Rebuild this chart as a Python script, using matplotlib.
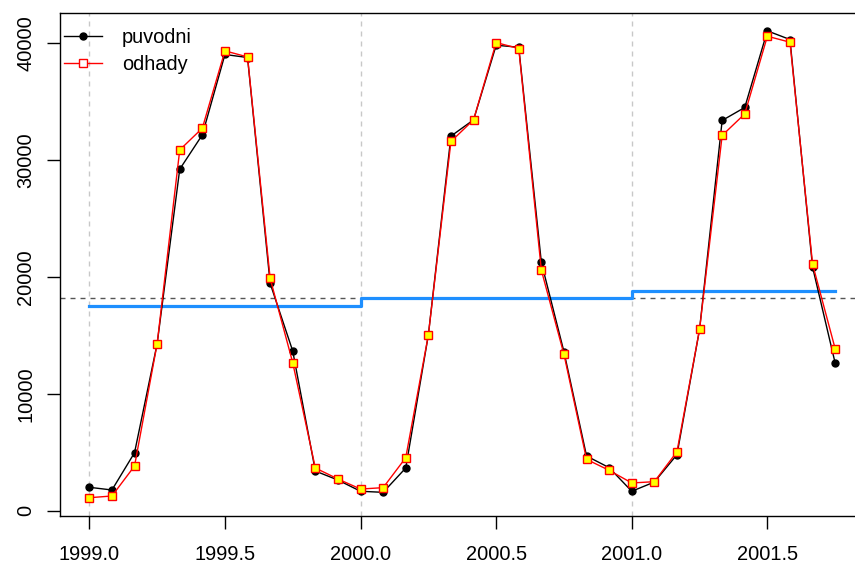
import matplotlib
matplotlib.use("Agg")
import matplotlib.pyplot as plt
from matplotlib.lines import Line2D
import numpy as np

plt.rcParams['font.family'] = ['Liberation Sans', 'DejaVu Sans']

# monthly series starting January 1999
start_year = 1999.0
frequency = 12

puvodni = [2000, 1770, 4957, 14270, 29200, 32140, 39010, 38750, 19440, 13650, 3390, 2620,
           1660, 1570, 3650, 15020, 32030, 33420, 39800, 39630, 21230, 13590, 4675, 3680,
           1660, 2450, 4790, 15500, 33370, 34480, 41030, 40290, 20830, 12620]
odhady = [1110, 1256, 3820, 14270, 30850, 32710, 39320, 38800, 19860, 12650, 3650, 2710,
          1850, 1970, 4530, 15020, 31570, 33420, 40030, 39520, 20570, 13370, 4390, 3450,
          2370, 2480, 5040, 15500, 32090, 33930, 40570, 40060, 21090, 13850]

year_starts = [1999.0, 2000.0, 2001.0]
year_level = [17520, 18200, 18780]
overall_mean = 18150

x_ticks = [1999.0, 1999.5, 2000.0, 2000.5, 2001.0, 2001.5]
y_ticks = [0, 10000, 20000, 30000, 40000]

time = start_year + np.arange(len(puvodni)) / frequency
level_x = year_starts + [time[-1]]
level_y = year_level + [year_level[-1]]

fig = plt.figure(figsize=(8.55, 5.65), dpi=100)
ax = fig.add_axes([59.5 / 855, (565 - 516.3) / 565, (865 - 59.5) / 855, (516.3 - 12.5) / 565])

fs = 14.4
for yr in year_starts:
    ax.axvline(yr, color='#c8c8c8', lw=1.0, ls=(0, (3.6, 3.6)), zorder=1)
ax.axhline(overall_mean, color='#555555', lw=1.0, ls=(0, (3.6, 3.6)), zorder=1)
ax.step(level_x, level_y, where='post', color='#1e8fff', lw=2.3, zorder=2)

ax.plot(time, puvodni, color='black', lw=1.0, marker='o', ms=5.0,
        mfc='black', mec='black', zorder=3)
ax.plot(time, odhady, color='red', lw=1.0, marker='s', ms=5.6,
        mfc='yellow', mec='red', mew=1.0, zorder=4)

ax.set_xlim(1998.89, 2001.86)
ax.set_ylim(-480, 42600)
ax.set_xticks(x_ticks)
ax.set_xticklabels([f"{v:.1f}" for v in x_ticks])
ax.set_yticks(y_ticks)
ax.set_yticklabels([str(v) for v in y_ticks], rotation=90, va='center')
ax.tick_params(axis='both', length=9.4, width=1.0, labelsize=fs, color='black')
ax.tick_params(axis='x', pad=11.5)
ax.tick_params(axis='y', pad=8)
for s in ax.spines.values():
    s.set_linewidth(1.0)

handles = [
    Line2D([], [], color='black', lw=1.0, marker='o', ms=5.0, mfc='black', mec='black'),
    Line2D([], [], color='red', lw=1.0, marker='s', ms=5.6, mfc='white', mec='red', mew=1.0),
]
ax.legend(handles, ['puvodni', 'odhady'], loc='upper left',
          bbox_to_anchor=(64 / 855, (565 - 28) / 565), bbox_transform=fig.transFigure,
          frameon=False, fontsize=fs, borderpad=0, borderaxespad=0,
          handlelength=1.9, handletextpad=1.0, labelspacing=0.38)

fig.savefig('out.png', dpi=100)
